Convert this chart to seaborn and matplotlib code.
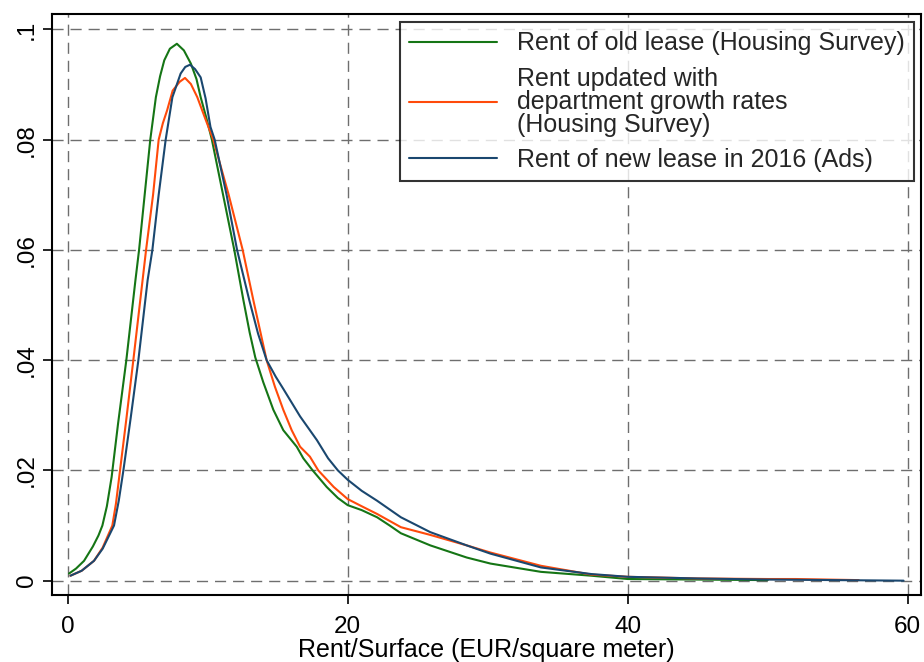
import numpy as np
import pandas as pd
import matplotlib
matplotlib.use("Agg")
import matplotlib.pyplot as plt
import seaborn as sns

# ---- data ----
labels = ["Rent of old lease (Housing Survey)",
          "Rent updated with\ndepartment growth rates\n(Housing Survey)",
          "Rent of new lease in 2016 (Ads)"]
colors = ["#157515", "#ff4a0a", "#1a476f"]

old_x = [0.1, 0.6, 1.17, 1.8, 2.2, 2.48, 2.8, 3.14, 3.6, 4.19, 4.84, 5.1, 5.5, 5.9, 6.3, 6.6,
         6.9, 7.3, 7.8, 8.3, 8.8, 9.2, 9.5, 9.9, 10.3, 11.1, 11.9, 12.55, 13.0, 13.4, 13.97,
         14.69, 15.4, 16.36, 16.83, 17.5, 18.5, 19.3, 20.0, 21.0, 22.1, 23.0, 23.8, 25.9,
         28.5, 30.2, 33.8, 37.4, 40.0, 45.0, 50.0]
old_y = [0.0013, 0.0022, 0.0036, 0.0062, 0.0082, 0.0100, 0.0135, 0.0188, 0.0285, 0.0400,
         0.0545, 0.0600, 0.0700, 0.0800, 0.0877, 0.0915, 0.0944, 0.0965, 0.0974, 0.0962,
         0.0938, 0.0910, 0.0877, 0.0840, 0.0800, 0.0700, 0.0600, 0.0509, 0.0450, 0.0405,
         0.0360, 0.0310, 0.0273, 0.0243, 0.0222, 0.0200, 0.0170, 0.0150, 0.0137, 0.0128,
         0.0115, 0.0100, 0.0086, 0.0064, 0.0042, 0.0031, 0.0016, 0.0009, 0.0003, 0.0002,
         0.0001]

upd_x = [0.2, 1.0, 1.88, 2.5, 3.19, 3.45, 3.74, 4.2, 4.69, 5.35, 5.6, 6.1, 6.5, 6.8, 7.1, 7.5,
         8.0, 8.38, 8.8, 9.26, 9.8, 10.4, 11.5, 12.5, 13.26, 14.21, 14.8, 15.4, 16.0, 16.6,
         17.3, 17.9, 19.0, 20.0, 21.0, 22.1, 23.8, 25.9, 28.5, 30.2, 33.8, 37.4, 40.0, 45.0,
         50.0, 52.0, 56.5]
upd_y = [0.0009, 0.0018, 0.0036, 0.0060, 0.0100, 0.0140, 0.0200, 0.0295, 0.0400, 0.0545,
         0.0600, 0.0700, 0.0800, 0.0830, 0.0853, 0.0889, 0.0905, 0.0912, 0.0901, 0.0877,
         0.0840, 0.0800, 0.0700, 0.0600, 0.0509, 0.0400, 0.0352, 0.0310, 0.0273, 0.0243,
         0.0225, 0.0200, 0.0170, 0.0148, 0.0135, 0.0121, 0.0097, 0.0083, 0.0064, 0.0051,
         0.0027, 0.0011, 0.0007, 0.0004, 0.0003, 0.0003, 0.0001]

new_x = [0.2, 1.0, 1.88, 2.5, 3.31, 3.65, 3.98, 4.5, 5.05, 5.71, 6.05, 6.5, 7.0, 7.48, 8.07,
         8.4, 8.74, 9.1, 9.5, 9.85, 10.2, 10.5, 11.35, 12.1, 12.97, 13.6, 14.21, 14.86, 15.4,
         16.6, 17.8, 18.6, 19.3, 20.0, 21.0, 22.1, 23.8, 25.9, 28.5, 30.2, 33.8, 37.4, 40.0,
         45.0, 50.0, 55.0, 59.7]
new_y = [0.0009, 0.0018, 0.0036, 0.0058, 0.0100, 0.0145, 0.0200, 0.0295, 0.0400, 0.0545,
         0.0600, 0.0700, 0.0800, 0.0877, 0.0920, 0.0932, 0.0936, 0.0928, 0.0913, 0.0875,
         0.0823, 0.0800, 0.0700, 0.0600, 0.0509, 0.0448, 0.0400, 0.0370, 0.0348, 0.0298,
         0.0255, 0.0222, 0.0200, 0.0183, 0.0163, 0.0145, 0.0115, 0.0088, 0.0064, 0.0049,
         0.0024, 0.0012, 0.0007, 0.0004, 0.0002, 0.0001, 0.0000]

x_ticks = [0, 20, 40, 60]
y_ticks = [0, 0.02, 0.04, 0.06, 0.08, 0.1]
y_ticklabels = ["0", ".02", ".04", ".06", ".08", ".1"]
x_label = "Rent/Surface (EUR/square meter)"

df = pd.concat([
    pd.DataFrame({"x": old_x, "y": old_y, "series": labels[0]}),
    pd.DataFrame({"x": upd_x, "y": upd_y, "series": labels[1]}),
    pd.DataFrame({"x": new_x, "y": new_y, "series": labels[2]}),
], ignore_index=True)

sns.set_theme(style="white")
plt.rcParams["font.family"] = ["Liberation Sans", "DejaVu Sans"]

fig = plt.figure(figsize=(9.24, 6.62), dpi=100)
ax = fig.add_axes([51.7 / 924, 67 / 662, 868.8 / 924, 581 / 662])

sns.lineplot(data=df, x="x", y="y", hue="series", hue_order=labels,
             palette=dict(zip(labels, colors)), estimator=None, sort=False,
             linewidth=1.5, ax=ax, legend=False)

ax.set_xlim(-1.14, 60.91)
ax.set_ylim(-0.0026, 0.1028)
ax.set_xticks(x_ticks)
ax.set_xticklabels([str(t) for t in x_ticks])
ax.set_yticks(y_ticks)
ax.set_yticklabels(y_ticklabels, rotation=90, va="center")
ax.tick_params(axis="both", direction="out", length=6.5, width=1.2, color="black",
               labelsize=17.5, labelcolor="black", bottom=True, left=True)
ax.tick_params(axis="x", pad=8.5)
ax.tick_params(axis="y", pad=3.5)
ax.set_xlabel(x_label, fontsize=18, color="black", labelpad=0)
ax.set_ylabel("")

ax.grid(True, linestyle=(0, (8, 5)), linewidth=1.0, color="#6e6e6e")
for s in ax.spines.values():
    s.set_visible(True)
    s.set_color("black")
    s.set_linewidth(1.5)

handles = [plt.Line2D([], [], color=c, lw=1.5) for c in colors]
leg = ax.legend(handles, labels, loc="upper right", bbox_to_anchor=(0.9925, 0.9862),
                borderaxespad=0, fontsize=18, frameon=True, fancybox=False,
                handlelength=3.52, handletextpad=0.8, labelspacing=0.45,
                borderpad=0.37)
leg.get_frame().set_edgecolor("black")
leg.get_frame().set_linewidth(1.5)
for t in leg.get_texts():
    t.set_linespacing(0.95)

fig.savefig("out.png", dpi=100)
